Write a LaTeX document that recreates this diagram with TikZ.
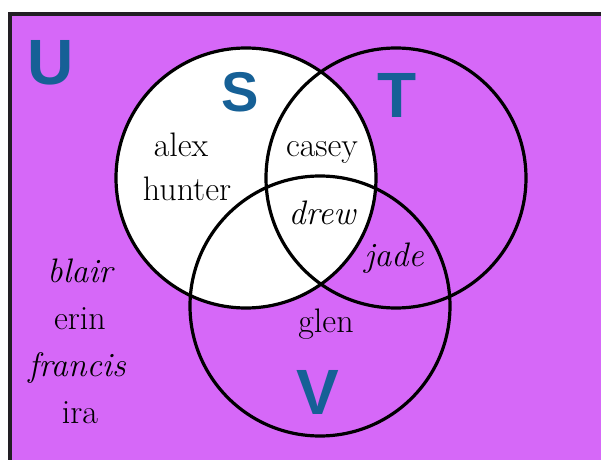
\documentclass[tikz,border=0pt]{standalone}
\usepackage{fontspec}
\newfontfamily\letterfont{Liberation Sans}
\usetikzlibrary{positioning}
\definecolor{venbg}{RGB}{214,104,248}
\definecolor{setblue}{RGB}{22,96,150}
\definecolor{framegray}{RGB}{34,30,36}

\begin{document}
\begin{tikzpicture}[x=0.5pt, y=-0.5pt,
    setcircle/.style={circle, draw=black, line width=1.6pt, minimum size=130pt, inner sep=0pt, outer sep=0pt},
    setname/.style={font=\letterfont\bfseries\fontsize{32}{36}\selectfont, text=setblue, inner sep=0pt},
    member/.style={font=\fontsize{17}{20}\selectfont, anchor=base, inner sep=0pt}]

\useasboundingbox (0,0) rectangle (601,460);
\clip (0,0) rectangle (601,460);

% Universal set
\draw[fill=venbg, draw=framegray, line width=1.8pt] (10,14) rectangle (640,500);
\node[setname] (labU) at (51,63) {U};

% The three sets, S shaded white
\node[setcircle, fill=white] (S) at (246,178) {};
\node[setcircle] (T) at (396,178) {};
\node[setcircle] (V) at (320,306) {};
\node[setname, font=\letterfont\bfseries\fontsize{28}{32}\selectfont] (labS) at (240,92) {S};
\node[setname] (labT) at (397,95) {T};
\node[setname] (labV) at (318,392) {V};

% Members
\node[member] (alex) at (181,157) {alex};
\node[member] (hunter) at (187,201) {hunter};
\node[member] (casey) at (322,157) {casey};
\node[member] (drew) at (322,225) {\itshape drew};
\node[member] (jade) at (394,267) {\itshape jade};
\node[member] (glen) at (326,333) {glen};
\node[member] (blair) at (80,283) {\itshape blair};
\node[member] (erin) at (80,330) {erin};
\node[member] (francis) at (77,377) {\itshape francis};
\node[member] (ira) at (80,423) {ira};

\end{tikzpicture}
\end{document}
